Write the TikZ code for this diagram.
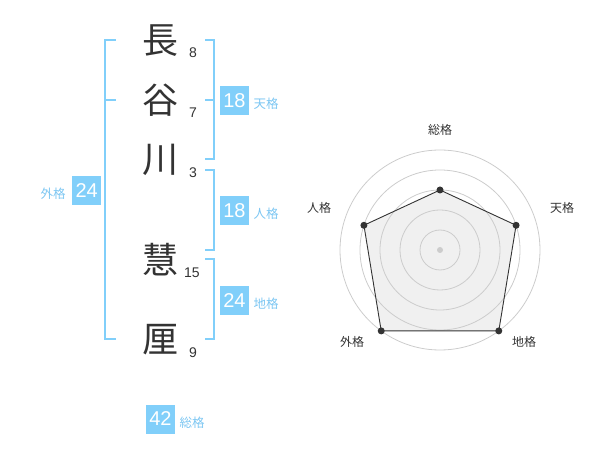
\documentclass[tikz,border=0pt]{standalone}
\usepackage{fontspec}
\setmainfont{Liberation Sans}
\newfontfamily\jp{Noto Sans CJK JP}
\definecolor{sky}{HTML}{81CFFA}
\definecolor{skytext}{HTML}{7CC6F2}
\definecolor{ink}{HTML}{333333}
\definecolor{ring}{HTML}{CCCCCC}
\begin{document}
\begin{tikzpicture}[x=1pt,y=-1pt,
  kanji/.style={font=\jp\fontsize{36}{36}\selectfont, text=ink, inner sep=0pt},
  strokes/.style={font=\fontsize{14}{14}\selectfont, text=ink, inner sep=0pt},
  valbox/.style={fill=sky, text=white, minimum width=29pt, minimum height=29pt, inner sep=0pt, font=\fontsize{20}{20}\selectfont},
  kaku/.style={font=\jp\fontsize{12.5}{12.5}\selectfont, text=skytext, inner sep=0pt},
  brk/.style={draw=sky, line width=2pt},
  rlabel/.style={font=\jp\fontsize{12}{12}\selectfont, text=ink, inner sep=0pt},
  dot/.style={circle, fill=ink, inner sep=0pt, minimum size=7pt}
]
\useasboundingbox (0,0) rectangle (600,470);
% name characters
\node[kanji] (k1) at (160,41) {長};
\node[kanji] (k2) at (160,100) {谷};
\node[kanji] (k3) at (160,160) {川};
\node[kanji] (k4) at (160,260) {慧};
\node[kanji] (k5) at (160,340) {厘};
\node[strokes] (s1) at (193,53) {8};
\node[strokes] (s2) at (193,113) {7};
\node[strokes] (s3) at (193,173) {3};
\node[strokes] (s4) at (192,273) {15};
\node[strokes] (s5) at (193,353) {9};
% brackets
\draw[brk] (115.7,40) -- (105,40) -- (105,339.3) -- (115.7,339.3);
\draw[brk] (105,100) -- (115.7,100);
\draw[brk] (205,40) -- (214.3,40) -- (214.3,159.3) -- (205,159.3);
\draw[brk] (205,100) -- (214.3,100);
\draw[brk] (205,170) -- (214.3,170) -- (214.3,250) -- (205,250);
\draw[brk] (205,259.3) -- (214.3,259.3) -- (214.3,339.3) -- (205,339.3);
% value boxes
\node[valbox] (ten) at (234.5,100.5) {18};
\node[kaku] (tenl) at (266,104) {天格};
\node[valbox] (jin) at (234.5,210.5) {18};
\node[kaku] (jinl) at (266,214) {人格};
\node[valbox] (chi) at (234.5,300.5) {24};
\node[kaku] (chil) at (266,304) {地格};
\node[valbox] (gai) at (86.7,190.5) {24};
\node[kaku] (gail) at (53,193.5) {外格};
\node[valbox] (sou) at (160.5,419) {42};
\node[kaku] (soul) at (192,423) {総格};
% radar chart
\begin{scope}[shift={(440,250)}]
  \fill[fill=black!6] (-90:60) -- (-18:80) -- (54:100) -- (126:100) -- (198:80) -- cycle;
  \foreach \r in {20,40,60,80,100} \draw[ring, line width=0.8pt] (0,0) circle (\r);
  \fill[ring] (0,0) circle (3);
  \node[dot] (p1) at (-90:60) {};
  \node[dot] (p2) at (-18:80) {};
  \node[dot] (p3) at (54:100) {};
  \node[dot] (p4) at (126:100) {};
  \node[dot] (p5) at (198:80) {};
  \draw[ink, line width=0.9pt] (p1.center) -- (p2.center) -- (p3.center) -- (p4.center) -- (p5.center) -- cycle;
\end{scope}
\node[rlabel] (l1) at (440,130) {総格};
\node[rlabel] (l2) at (562,208) {天格};
\node[rlabel] (l3) at (524,342) {地格};
\node[rlabel] (l4) at (352,342) {外格};
\node[rlabel] (l5) at (319,208) {人格};
\end{tikzpicture}
\end{document}
